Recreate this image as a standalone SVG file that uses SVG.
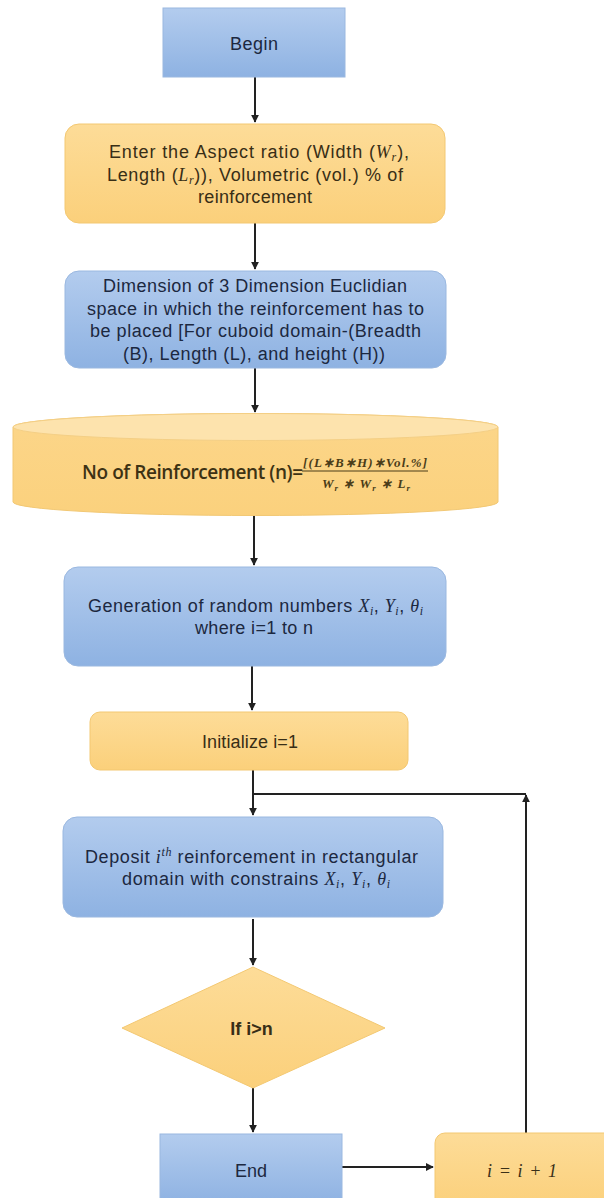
<svg xmlns="http://www.w3.org/2000/svg" width="604" height="1198" viewBox="0 0 604 1198">
<defs>
<linearGradient id="gBlue" x1="0" y1="0" x2="0" y2="1">
<stop offset="0" stop-color="#b3ccee"/>
<stop offset="1" stop-color="#8eb2e2"/>
</linearGradient>
<linearGradient id="gOrange" x1="0" y1="0" x2="0" y2="1">
<stop offset="0" stop-color="#fddc98"/>
<stop offset="1" stop-color="#fbd07b"/>
</linearGradient>
<linearGradient id="gCyl" x1="0" y1="0" x2="0" y2="1">
<stop offset="0" stop-color="#fcd68a"/>
<stop offset="1" stop-color="#fbd17d"/>
</linearGradient>
<marker id="arr" viewBox="0 0 10 10" refX="9" refY="5" markerWidth="4" markerHeight="4" orient="auto">
<path d="M0,0 L10,5 L0,10 z" fill="#222"/>
</marker>
<style>
.blue{fill:url(#gBlue);stroke:#9ab8e0;stroke-width:1}
.orange{fill:url(#gOrange);stroke:#f3c872;stroke-width:1}
.tb{font-family:"Liberation Sans",Arial,sans-serif;font-size:18px;fill:#1c2840;text-anchor:middle}
.to{font-family:"Liberation Sans",Arial,sans-serif;font-size:18px;fill:#382e16;text-anchor:middle}
.m{font-family:"Liberation Serif","Times New Roman",serif;font-style:italic}
.s{font-size:12px}
.conn{stroke:#222;stroke-width:2;fill:none}
</style>
</defs>

<g id="connectors">
<path class="conn" d="M255 77 V122" marker-end="url(#arr)"/>
<path class="conn" d="M255 223 V269" marker-end="url(#arr)"/>
<path class="conn" d="M255 368 V412" marker-end="url(#arr)"/>
<path class="conn" d="M254 516 V565" marker-end="url(#arr)"/>
<path class="conn" d="M252 666 V710" marker-end="url(#arr)"/>
<path class="conn" d="M253 770 V815" marker-end="url(#arr)"/>
<path class="conn" d="M253 919 V965" marker-end="url(#arr)"/>
<path class="conn" d="M253 1088 V1132" marker-end="url(#arr)"/>
<path class="conn" d="M342 1167 H433" marker-end="url(#arr)"/>
<path class="conn" d="M526 1133 V795" marker-end="url(#arr)"/>
<path class="conn" d="M526 794 H253"/>
</g>

<g id="begin">
<rect class="blue" x="163" y="8" width="182" height="69"/>
<text class="tb" x="254" y="50" textLength="48">Begin</text>
</g>

<g id="enter">
<rect class="orange" x="65" y="124" width="380" height="99" rx="14"/>
<text class="to" x="259" y="158" textLength="300">Enter the Aspect ratio (Width (<tspan class="m">W</tspan><tspan class="m s" dy="3">r</tspan><tspan dy="-3">),</tspan></text>
<text class="to" x="255" y="181" textLength="296">Length (<tspan class="m">L</tspan><tspan class="m s" dy="3">r</tspan><tspan dy="-3">)), Volumetric (vol.) % of</tspan></text>
<text class="to" x="255" y="203" textLength="114">reinforcement</text>
</g>

<g id="dimension">
<rect class="blue" x="65" y="271" width="381" height="97" rx="14"/>
<text class="tb" x="255" y="292" textLength="304">Dimension of 3 Dimension Euclidian</text>
<text class="tb" x="255.5" y="315" textLength="337">space in which the reinforcement has to</text>
<text class="tb" x="255.5" y="337" textLength="331">be placed [For cuboid domain-(Breadth</text>
<text class="tb" x="254" y="360" textLength="262">(B), Length (L), and height (H))</text>
</g>

<g id="count">
<path d="M13 427 A242.5 13.5 0 0 1 498 427 V502 A242.5 13.5 0 0 1 13 502 Z" fill="url(#gCyl)" stroke="#f2c874" stroke-width="1"/>
<ellipse cx="255.5" cy="427" rx="242.5" ry="13.5" fill="#fde3ad" stroke="#f4cf85" stroke-width="1"/>
<text x="82" y="479" textLength="221" font-family="'Open Sans','Liberation Sans',sans-serif" font-size="19px" font-weight="600" fill="#3d3214">No of Reinforcement (n)=</text>
<text x="365" y="467" textLength="124" text-anchor="middle" font-family="'Liberation Serif',serif" font-style="italic" font-weight="bold" font-size="13px" fill="#4a3c18">[(L∗B∗H)∗Vol.%]</text>
<line x1="302" y1="471" x2="428" y2="471" stroke="#4a3c18" stroke-width="1"/>
<text x="366" y="488" textLength="88" text-anchor="middle" font-family="'Liberation Serif',serif" font-style="italic" font-weight="bold" font-size="13px" fill="#4a3c18">W<tspan font-size="9px" dy="3">r</tspan><tspan dy="-3"> ∗ W</tspan><tspan font-size="9px" dy="3">r</tspan><tspan dy="-3"> ∗ L</tspan><tspan font-size="9px" dy="3">r</tspan></text>
</g>

<g id="generation">
<rect class="blue" x="64" y="567" width="382" height="99" rx="14"/>
<text class="tb" x="255.5" y="612" textLength="335">Generation of random numbers <tspan class="m">X</tspan><tspan class="m s" dy="3">i</tspan><tspan dy="-3">, </tspan><tspan class="m">Y</tspan><tspan class="m s" dy="3">i</tspan><tspan dy="-3">, </tspan><tspan class="m">θ</tspan><tspan class="m s" dy="3">i</tspan></text>
<text class="tb" x="254" y="634" textLength="118">where i=1 to n</text>
</g>

<g id="initialize">
<rect class="orange" x="90" y="712" width="318" height="58" rx="10"/>
<text class="to" x="250" y="748" textLength="96">Initialize i=1</text>
</g>

<g id="deposit">
<rect class="blue" x="63" y="817" width="380" height="100" rx="14"/>
<text class="tb" x="251.5" y="863" textLength="333">Deposit <tspan class="m">i</tspan><tspan class="m s" dy="-7">th</tspan><tspan dy="7"> reinforcement in rectangular</tspan></text>
<text class="tb" x="256" y="885" textLength="268">domain with constrains <tspan class="m">X</tspan><tspan class="m s" dy="3">i</tspan><tspan dy="-3">, </tspan><tspan class="m">Y</tspan><tspan class="m s" dy="3">i</tspan><tspan dy="-3">, </tspan><tspan class="m">θ</tspan><tspan class="m s" dy="3">i</tspan></text>
</g>

<g id="decision">
<polygon points="253,967 385,1028 253,1088 122,1028" fill="url(#gOrange)" stroke="#f3c872" stroke-width="1"/>
<text class="to" x="251.5" y="1035" font-size="19px" font-weight="bold">If i&gt;n</text>
</g>

<g id="end">
<rect class="blue" x="160" y="1134" width="182" height="70"/>
<text class="tb" x="251" y="1177" textLength="32">End</text>
</g>

<g id="increment">
<rect class="orange" x="435" y="1133" width="180" height="75" rx="10"/>
<text x="522" y="1177" textLength="70" text-anchor="middle" font-family="'Liberation Serif',serif" font-style="italic" font-size="18px" fill="#3a3018">i = i + 1</text>
</g>
</svg>
